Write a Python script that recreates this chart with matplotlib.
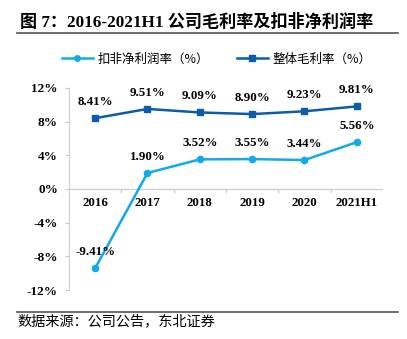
import matplotlib
matplotlib.use("Agg")
import matplotlib.pyplot as plt
from matplotlib.lines import Line2D

plt.rcParams['font.family'] = ['Liberation Serif', 'Noto Sans CJK SC', 'DejaVu Sans']

years = ["2016", "2017", "2018", "2019", "2020", "2021H1"]
net_margin = [-9.41, 1.90, 3.52, 3.55, 3.44, 5.56]
gross_margin = [8.41, 9.51, 9.09, 8.90, 9.23, 9.81]
y_ticks = [12, 8, 4, 0, -4, -8, -12]

c_net = "#12AAEB"
c_gross = "#0D5CA8"
cjk = ['Noto Sans CJK SC', 'DejaVu Sans']

fig = plt.figure(figsize=(4.07, 3.39), dpi=100)
ax = fig.add_axes([0.1695, 0.1445, 0.7715, 0.596])

x = list(range(len(years)))
ax.plot(x, net_margin, color=c_net, lw=1.8, marker="o", ms=4.5)
ax.plot(x, gross_margin, color=c_gross, lw=1.8, marker="s", ms=4.5)

for series in (net_margin, gross_margin):
    for xi, v in zip(x, series):
        ax.annotate(f"{v:.2f}%", (xi, v), xytext=(0, 11.5), textcoords="offset points",
                    ha="center", va="center", fontsize=9.3, fontweight="bold")

ax.set_xlim(-0.5, len(years) - 0.5)
ax.set_ylim(-12, 12)
ax.set_yticks(y_ticks)
ax.set_yticklabels([f"{t}%" for t in y_ticks], fontsize=9.5, fontweight="bold")
ax.tick_params(axis="y", length=3, color="#C8C8C8", pad=5)

# category labels sit just beneath the zero line
ax.set_xticks([])
for xi, lab in zip(x, years):
    ax.text(xi, -1.7, lab, ha="center", va="center", fontsize=9.3, fontweight="bold")
ax.axhline(0, color="#D0D0D0", lw=1.0, zorder=0)
for b in [i + 0.5 for i in range(len(years) - 1)]:
    ax.plot([b, b], [0, -0.35], color="#D0D0D0", lw=1.0, zorder=0)

for s in ["top", "right", "bottom"]:
    ax.spines[s].set_visible(False)
ax.spines["left"].set_color("#D0D0D0")

handles = [
    Line2D([0], [0], color=c_net, lw=1.8, marker="o", ms=4),
    Line2D([0], [0], color=c_gross, lw=1.8, marker="s", ms=4),
]
fig.legend(handles, ["扣非净利润率（%）", "整体毛利率（%）"], loc="center left",
           bbox_to_anchor=(0.152, 0.826), ncol=2, frameon=False, borderpad=0,
           borderaxespad=0, prop={"family": cjk, "size": 9}, handlelength=2.48,
           columnspacing=2.2, handletextpad=0.4)

fig.text(0.049, 0.933, "图 7：2016-2021H1 公司毛利率及扣非净利润率", fontsize=12.3,
         fontweight="bold", ha="left", va="center",
         family=['Liberation Serif', 'Noto Sans CJK SC'])
fig.add_artist(Line2D([0.042, 0.978], [0.903, 0.903], color="#555555", lw=1.2))
fig.add_artist(Line2D([0.042, 0.978], [0.080, 0.080], color="#555555", lw=1.2))
fig.text(0.042, 0.053, "数据来源：公司公告，东北证券", fontsize=10.2, ha="left", va="center",
         family=cjk)

fig.savefig("out.png", dpi=100)
